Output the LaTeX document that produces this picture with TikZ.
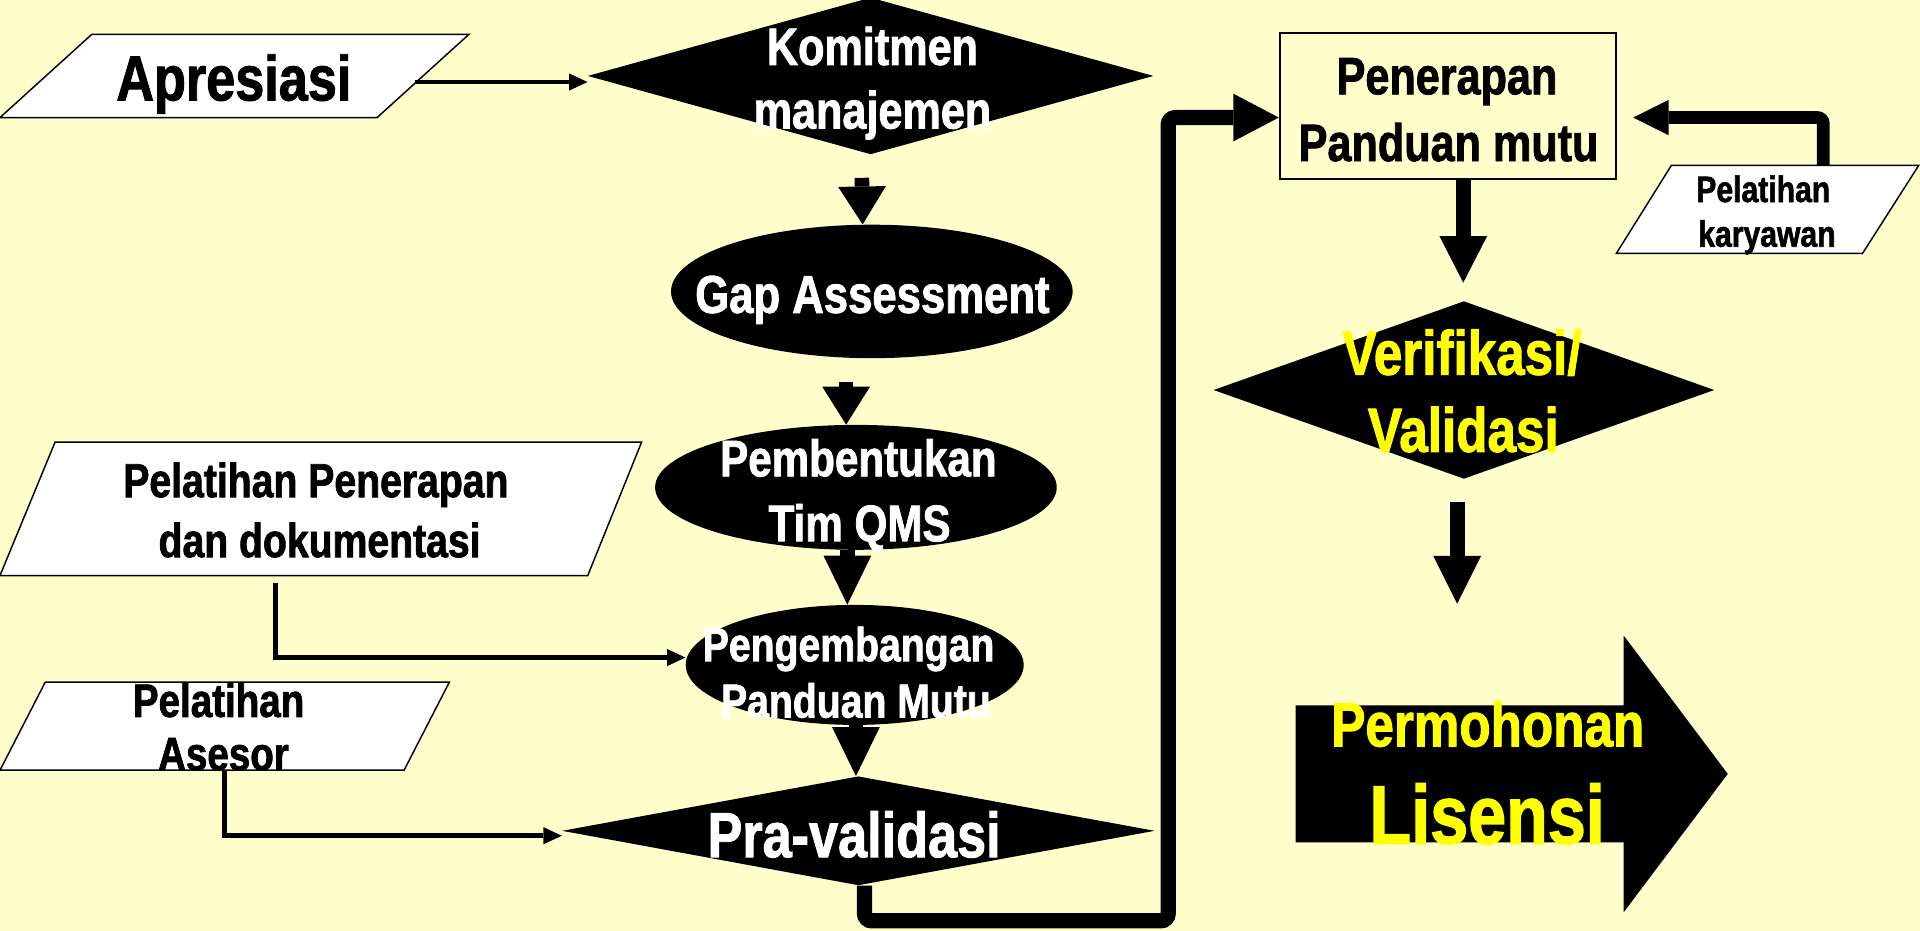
\documentclass[tikz,border=0pt]{standalone}
\usepackage{fontspec}
\newfontfamily\narb{Liberation Sans Bold}[FakeStretch=0.82,FakeBold=1.5]
\usetikzlibrary{shapes.geometric,arrows.meta}
\definecolor{bg}{HTML}{FFFFCC}
\definecolor{hilite}{HTML}{FFFF00}
\newcommand\fsz[1]{\fontsize{#1}{#1}\selectfont\narb}
\tikzset{
  para/.style={fill=white,draw=black,line width=1.2},
  blackdia/.style={diamond,fill=black,inner sep=0pt},
  blackell/.style={ellipse,fill=black,inner sep=0pt},
  lbl/.style={inner sep=0pt,anchor=base},
  wlbl/.style={lbl,text=white},
  blbl/.style={lbl,text=black},
  ylbl/.style={lbl,text=hilite},
  thinarr/.style={line width=4,-{Triangle[width=14pt,length=15pt,line width=0pt]}},
  bigarr/.style={line width=12,-{Triangle[width=39pt,length=#1,line width=0pt]}},
  bigarr/.default=31pt,
  route/.style={line width=12.5,rounded corners=6,-{Triangle[width=39pt,length=37pt,line width=0pt]}},
  sideroute/.style={line width=10.5,rounded corners=5,-{Triangle[width=29pt,length=29pt,line width=0pt]}}
}
\begin{document}
\begin{tikzpicture}[x=1pt,y=-1pt]
\useasboundingbox (0,0) rectangle (1568,760);
\clip (0,0) rectangle (1568,760);
\fill[bg] (0,0) rectangle (1568,760);

% input parallelograms
\draw[para] (75,28) -- (383,28) -- (308,96) -- (0,96) -- cycle;
\draw[para] (45,361) -- (524,361) -- (480,470) -- (0,470) -- cycle;
\draw[para] (37,557) -- (367,557) -- (330,629) -- (0,629) -- cycle;
\draw[para] (1365,135) -- (1567,135) -- (1521,207) -- (1320,207) -- cycle;

% main flow shapes
\node[blackdia,minimum width=462,minimum height=128] (komit) at (711,62) {};
\node[blackell,minimum width=328,minimum height=109] (gap) at (712,238) {};
\node[blackell,minimum width=328,minimum height=102] (pemb) at (699,398) {};
\node[blackell,minimum width=276,minimum height=98] (peng) at (698,543) {};
\node[blackdia,minimum width=484,minimum height=89] (pra) at (701,678.5) {};
\node[rectangle,draw=black,line width=1.5,inner sep=0pt,minimum width=275,minimum height=119] (pen) at (1182.5,86.5) {};
\node[blackdia,minimum width=409,minimum height=145] (verif) at (1195.5,318.5) {};
\fill (1058,576) -- (1326,576) -- (1326,519) -- (1411,632) -- (1326,745) -- (1326,688) -- (1058,688) -- cycle;

% connector end points
\coordinate (apres-out) at (339,67);
\coordinate (ppd-out) at (225,476);
\coordinate (ases-out) at (183,629);
\coordinate (kary-top) at (1489,135);
\coordinate (bend) at (954,752);
\coordinate (lis-in) at (1190,493);

% thin connectors
\draw[thinarr] (apres-out) -- (apres-out -| komit.west);
\draw[thinarr] (ppd-out) |- ([yshift=6]peng.west);
\draw[thinarr] (ases-out) |- ([yshift=-4]pra.west);

% block arrows between steps
\draw[bigarr,shorten <=19] ([xshift=-7.5]komit.south) -- ([xshift=-7.5]gap.north);
\draw[bigarr,shorten <=19.5] ([xshift=-21]gap.south) -- ([xshift=-8]pemb.north);
\draw[bigarr=40pt] ([xshift=-7]pemb.south) -- ([xshift=-6]peng.north);
\draw[bigarr=40pt] ([xshift=1]peng.south) -- ([xshift=-2]pra.north);
\draw[bigarr=38pt,shorten >=15] ([xshift=12.5]pen.south) -- ([xshift=-0.5]verif.north);
\draw[bigarr=39pt,shorten <=19] ([xshift=-5.5]verif.south) -- (lis-in);

% routed connectors into the implementation box
\draw[route] ([xshift=5]pra.south) |- (bend) |- ([yshift=-9.5]pen.west);
\draw[sideroute,shorten >=13] (kary-top) |- ([yshift=-9.5]pen.east);

% labels
\node[blbl,font=\fsz{52}] (apres) at (191,82) {Apresiasi};
\node[wlbl,font=\fsz{43}] (komit-a) at (712.5,53) {Komitmen};
\node[wlbl,font=\fsz{43}] (komit-b) at (712.5,105) {manajemen};
\node[wlbl,font=\fsz{43.5}] (gap-t) at (712.5,255.5) {Gap Assessment};
\node[wlbl,font=\fsz{42}] (pemb-a) at (701,389) {Pembentukan};
\node[wlbl,font=\fsz{42}] (pemb-b) at (702,442) {Tim QMS};
\node[blbl,font=\fsz{39}] (ppd-a) at (258,406) {Pelatihan Penerapan};
\node[blbl,font=\fsz{39}] (ppd-b) at (261,455) {dan dokumentasi};
\node[wlbl,font=\fsz{39}] (peng-a) at (693,540) {Pengembangan};
\node[wlbl,font=\fsz{39}] (peng-b) at (699,586) {Panduan Mutu};
\node[blbl,font=\fsz{38.4}] (ases-a) at (178.5,585.5) {Pelatihan};
\node[blbl,font=\fsz{38.4}] (ases-b) at (182.5,629) {Asesor};
\node[wlbl,font=\fsz{52}] (pra-t) at (697.5,700) {Pra-validasi};
\node[blbl,font=\fsz{43}] (pen-a) at (1181.7,77) {Penerapan};
\node[blbl,font=\fsz{43}] (pen-b) at (1183,131.5) {Panduan mutu};
\node[blbl,font=\fsz{30}] (kary-a) at (1440,165) {Pelatihan};
\node[blbl,font=\fsz{30}] (kary-b) at (1443,201.5) {karyawan};
\node[ylbl,font=\fsz{51}] (ver-a) at (1194,306) {Verifikasi/};
\node[ylbl,font=\fsz{51}] (ver-b) at (1195,369) {Validasi};
\node[ylbl,font=\fsz{51}] (lis-a) at (1215,609.5) {Permohonan};
\node[ylbl,font=\fsz{68}] (lis-b) at (1214.5,689) {Lisensi};
\end{tikzpicture}
\end{document}
